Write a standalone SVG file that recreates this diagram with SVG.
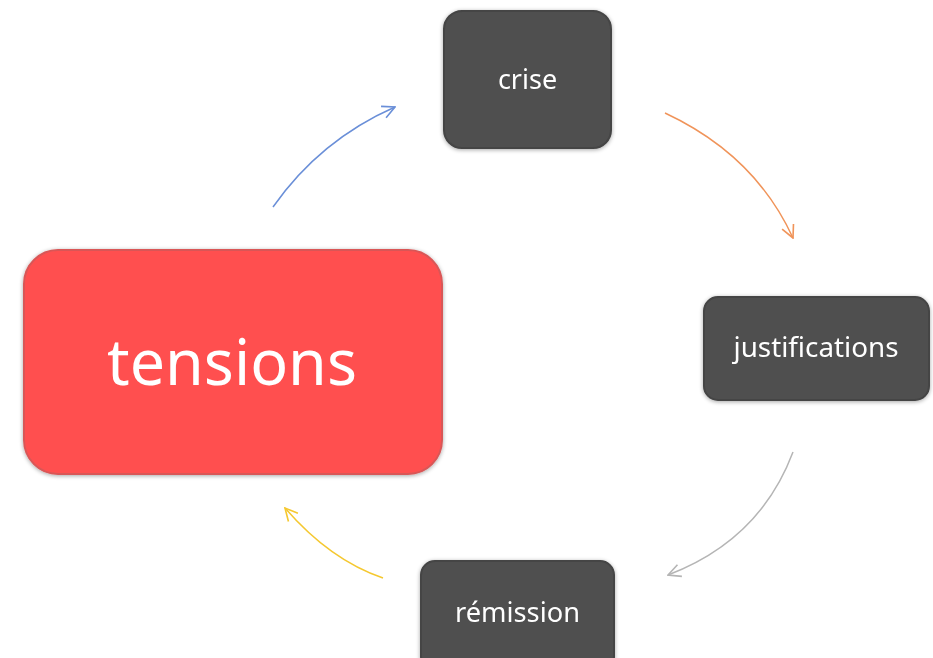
<svg xmlns="http://www.w3.org/2000/svg" width="933" height="658" viewBox="0 0 933 658">
<style>
.dark{fill:#4f4f4f;stroke:#444;stroke-width:2}
.red{fill:#ff5050;stroke:#d95757;stroke-width:2}
.lbl{font-family:"Noto Sans","Open Sans",sans-serif;fill:#fff;text-anchor:middle}
.arc{fill:none;stroke-width:1.5}
</style>
<defs>
<filter id="sh" x="-10%" y="-10%" width="120%" height="120%">
<feGaussianBlur in="SourceAlpha" stdDeviation="2"/>
<feOffset dx="0" dy="1" result="b"/>
<feComponentTransfer><feFuncA type="linear" slope="0.35"/></feComponentTransfer>
<feMerge><feMergeNode/><feMergeNode in="SourceGraphic"/></feMerge>
</filter>
<marker id="mb" viewBox="0 0 12 12" refX="11" refY="6" markerWidth="15" markerHeight="15" markerUnits="userSpaceOnUse" orient="auto"><path d="M1,1 L11,6 L1,11" fill="none" stroke="#6a8fd8" stroke-width="1.3"/></marker>
<marker id="mo" viewBox="0 0 12 12" refX="11" refY="6" markerWidth="15" markerHeight="15" markerUnits="userSpaceOnUse" orient="auto"><path d="M1,1 L11,6 L1,11" fill="none" stroke="#f0945a" stroke-width="1.3"/></marker>
<marker id="mg" viewBox="0 0 12 12" refX="11" refY="6" markerWidth="15" markerHeight="15" markerUnits="userSpaceOnUse" orient="auto"><path d="M1,1 L11,6 L1,11" fill="none" stroke="#b5b5b5" stroke-width="1.3"/></marker>
<marker id="my" viewBox="0 0 12 12" refX="11" refY="6" markerWidth="15" markerHeight="15" markerUnits="userSpaceOnUse" orient="auto"><path d="M1,1 L11,6 L1,11" fill="none" stroke="#f5c830" stroke-width="1.3"/></marker>
</defs>
<rect width="933" height="658" fill="#fff"/>
<g id="connectors">
<path class="arc" stroke="#6a8fd8" marker-end="url(#mb)" d="M273,207 Q320,140 395,107"/>
<path class="arc" stroke="#f0945a" marker-end="url(#mo)" d="M665,113 Q755,155 793,238"/>
<path class="arc" stroke="#b5b5b5" marker-end="url(#mg)" d="M793,452 Q760,540 668,575"/>
<path class="arc" stroke="#f5c830" marker-end="url(#my)" d="M383,578 Q330,560 285,508"/>
</g>
<g id="tensions" filter="url(#sh)">
<rect class="red" x="24" y="250" width="418" height="224" rx="34"/>
<text class="lbl" x="232" y="385" font-size="63" textLength="250" lengthAdjust="spacingAndGlyphs">tensions</text>
</g>
<g id="crise" filter="url(#sh)">
<rect class="dark" x="444" y="11" width="167" height="137" rx="18"/>
<text class="lbl" x="527.5" y="89" font-size="27">crise</text>
</g>
<g id="justifications" filter="url(#sh)">
<rect class="dark" x="704" y="297" width="225" height="103" rx="14"/>
<text class="lbl" x="816" y="357" font-size="27" textLength="165" lengthAdjust="spacingAndGlyphs">justifications</text>
</g>
<g id="remission" filter="url(#sh)">
<rect class="dark" x="421" y="561" width="193" height="110" rx="14"/>
<text class="lbl" x="517.5" y="622" font-size="27" textLength="125" lengthAdjust="spacingAndGlyphs">rémission</text>
</g>
</svg>
